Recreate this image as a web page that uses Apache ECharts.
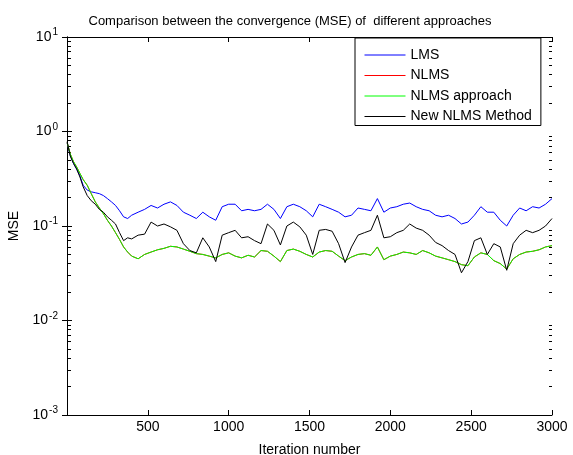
<!DOCTYPE html>
<html>
<head>
<meta charset="utf-8">
<script src="https://cdn.jsdelivr.net/npm/echarts@6/dist/echarts.min.js"></script>
<style>html,body{margin:0;padding:0;background:#fff}#c{width:573px;height:455px}</style>
</head>
<body>
<div id="c"></div>
<script>
const titleText = 'Comparison between the convergence (MSE) of  different approaches';
const seriesNames = ['LMS', 'NLMS', 'NLMS approach', 'New NLMS Method'];
const xTicks = [500, 1000, 1500, 2000, 2500, 3000];
const yDecades = [0.001, 0.01, 0.1, 1, 10];

const iterations = [1,20,40,60,80,100,125,150,175,200,225,250,275,300,325,350,375,
 400,440,480,520,560,600,640,680,720,760,800,840,880,920,960,1000,1040,1080,1120,1160,1200,
 1240,1280,1320,1360,1400,1440,1480,1520,1560,1600,1640,1680,1720,1760,1800,1840,1880,1920,
 1960,2000,2040,2080,2120,2160,2200,2240,2280,2320,2360,2400,2440,2480,2520,2560,2600,2640,
 2680,2720,2760,2800,2840,2880,2920,2960,3000];

const lms = [0.76,0.56,0.46,0.40,0.34,0.27,0.24,0.23,0.225,0.22,0.21,0.195,0.18,0.165,0.145,0.125,0.12,
 0.13,0.14,0.15,0.165,0.155,0.17,0.18,0.165,0.14,0.13,0.12,0.14,0.125,0.115,0.16,0.17,0.17,0.145,0.15,0.145,0.15,
 0.17,0.15,0.12,0.16,0.17,0.16,0.145,0.125,0.17,0.16,0.15,0.14,0.125,0.13,0.155,0.15,0.145,0.195,
 0.14,0.155,0.16,0.17,0.175,0.16,0.15,0.145,0.13,0.125,0.13,0.12,0.105,0.11,0.13,0.16,0.14,0.14,
 0.115,0.10,0.13,0.155,0.145,0.16,0.155,0.17,0.195];

const nlms = [0.76,0.58,0.48,0.42,0.36,0.31,0.27,0.22,0.18,0.155,0.135,0.115,0.10,0.085,0.072,0.060,0.053,
 0.048,0.045,0.05,0.053,0.056,0.058,0.061,0.06,0.057,0.054,0.051,0.05,0.048,0.046,0.05,0.052,0.048,0.046,0.049,0.047,0.055,
 0.054,0.048,0.042,0.055,0.057,0.054,0.05,0.047,0.053,0.055,0.054,0.048,0.043,0.047,0.05,0.051,0.049,0.06,
 0.044,0.048,0.05,0.053,0.052,0.05,0.055,0.052,0.048,0.046,0.044,0.042,0.039,0.038,0.047,0.052,0.05,0.043,
 0.04,0.035,0.045,0.05,0.053,0.054,0.056,0.06,0.062];

const nlmsApproach = [0.76,0.58,0.48,0.42,0.36,0.31,0.27,0.22,0.18,0.155,0.135,0.115,0.10,0.085,0.072,0.060,0.053,
 0.048,0.045,0.05,0.053,0.056,0.058,0.061,0.06,0.057,0.054,0.051,0.05,0.048,0.046,0.05,0.052,0.048,0.046,0.049,0.047,0.055,
 0.054,0.048,0.042,0.055,0.057,0.054,0.05,0.047,0.053,0.055,0.054,0.048,0.043,0.047,0.05,0.051,0.049,0.06,
 0.044,0.048,0.05,0.053,0.052,0.05,0.055,0.052,0.048,0.046,0.044,0.042,0.039,0.038,0.047,0.052,0.05,0.043,
 0.04,0.035,0.045,0.05,0.053,0.054,0.056,0.06,0.062];

const newNlms = [0.78,0.55,0.46,0.40,0.33,0.26,0.21,0.185,0.17,0.15,0.14,0.125,0.115,0.105,0.085,0.07,0.075,
 0.073,0.08,0.082,0.11,0.10,0.105,0.098,0.09,0.065,0.055,0.052,0.075,0.06,0.042,0.08,0.085,0.09,0.075,0.077,0.07,0.065,
 0.105,0.09,0.063,0.1,0.11,0.098,0.08,0.05,0.09,0.092,0.088,0.065,0.041,0.06,0.08,0.085,0.09,0.13,
 0.075,0.077,0.085,0.09,0.105,0.095,0.09,0.08,0.067,0.062,0.055,0.05,0.032,0.042,0.07,0.075,0.05,0.065,
 0.06,0.034,0.065,0.08,0.09,0.085,0.09,0.1,0.12];

const colors = ['#0000ff', '#ff0000', '#00ff00', '#000000'];
const values = [lms, nlms, nlmsApproach, newNlms];

// minor tick values of the log axis (2..9 x 10^k)
const minorVals = [];
for (let k = 0; k < yDecades.length - 1; k++) {
  for (let m = 2; m <= 9; m++) minorVals.push(m * yDecades[k]);
}
const X_MIN = 0, X_MAX = 3000;

const FONT = "'Liberation Sans', Arial, sans-serif";
const chart = echarts.init(document.getElementById('c'), null, {renderer: 'canvas'});

const lineSeries = seriesNames.map((name, s) => ({
  name, type: 'line', xAxisIndex: 0, yAxisIndex: 0,
  data: iterations.map((x, i) => [x, values[s][i]]),
  symbol: 'none', showSymbol: false, smooth: false, animation: false,
  lineStyle: {color: colors[s], width: 1},
  itemStyle: {color: colors[s]},
  z: 3 + s
}));

const axisLineStyle = {show: true, lineStyle: {color: '#000', width: 1}};
const tickIn = {show: true, inside: true, length: 5, lineStyle: {color: '#000', width: 1}};
const logBase = (pos) => ({
  type: 'log', logBase: 10, min: yDecades[0], max: yDecades[yDecades.length - 1], position: pos,
  splitLine: {show: false}
});

chart.setOption({
  animation: false,
  backgroundColor: '#fff',
  title: {
    text: titleText, left: 285, top: 10, textAlign: 'center',
    textStyle: {fontFamily: FONT, fontSize: 13, fontWeight: 'normal', color: '#000'}
  },
  legend: {
    data: seriesNames,
    orient: 'vertical', left: 355, top: 38,
    backgroundColor: '#fff', borderColor: '#000', borderWidth: 1,
    padding: [10, 9, 2, 9], itemWidth: 41, itemHeight: 14, itemGap: 6.5,
    itemStyle: {opacity: 0},
    lineStyle: {width: 1},
    textStyle: {fontFamily: FONT, fontSize: 14, color: '#000', lineHeight: 14, height: 14},
    selectedMode: false
  },
  grid: {left: 67, right: 21, top: 37, bottom: 40, show: false, outerBoundsMode: 'none', containLabel: false},
  xAxis: [{
    type: 'value', min: X_MIN, max: X_MAX, interval: 500, position: 'bottom',
    name: 'Iteration number', nameLocation: 'middle', nameGap: 28,
    nameTextStyle: {fontFamily: FONT, fontSize: 14, color: '#000'},
    axisLine: axisLineStyle, axisTick: tickIn, splitLine: {show: false},
    axisLabel: {fontFamily: FONT, fontSize: 14, color: '#000', margin: 5,
      formatter: v => (xTicks.indexOf(v) >= 0 ? String(v) : '')}
  }, {
    type: 'value', min: X_MIN, max: X_MAX, interval: 500, position: 'top',
    axisLine: axisLineStyle, axisTick: tickIn, axisLabel: {show: false}, splitLine: {show: false}
  }],
  yAxis: [Object.assign(logBase('left'), {
    name: 'MSE', nameLocation: 'middle', nameGap: 35,
    nameTextStyle: {fontFamily: FONT, fontSize: 14, color: '#000'},
    axisLine: axisLineStyle, axisTick: tickIn, minorTick: {show: false},
    axisLabel: {
      fontFamily: FONT, fontSize: 14, color: '#000', margin: 9,
      formatter: v => '{b|10}{s|' + Math.round(Math.log10(v)) + '}',
      rich: {
        b: {fontFamily: FONT, fontSize: 14, color: '#000'},
        s: {fontFamily: FONT, fontSize: 10, color: '#000', padding: [0, 0, 9, 1]}
      }
    }
  }), Object.assign(logBase('right'), {
    axisLine: axisLineStyle, axisTick: tickIn, axisLabel: {show: false}
  }), Object.assign(logBase('left'), {
    axisLine: {show: false}, axisLabel: {show: false},
    axisTick: {show: true, inside: true, length: 4, customValues: minorVals, lineStyle: {color: '#000', width: 1}}
  }), Object.assign(logBase('right'), {
    axisLine: {show: false}, axisLabel: {show: false},
    axisTick: {show: true, inside: true, length: 3, customValues: minorVals, lineStyle: {color: '#000', width: 1}}
  })],
  series: lineSeries
});
</script>
</body>
</html>
